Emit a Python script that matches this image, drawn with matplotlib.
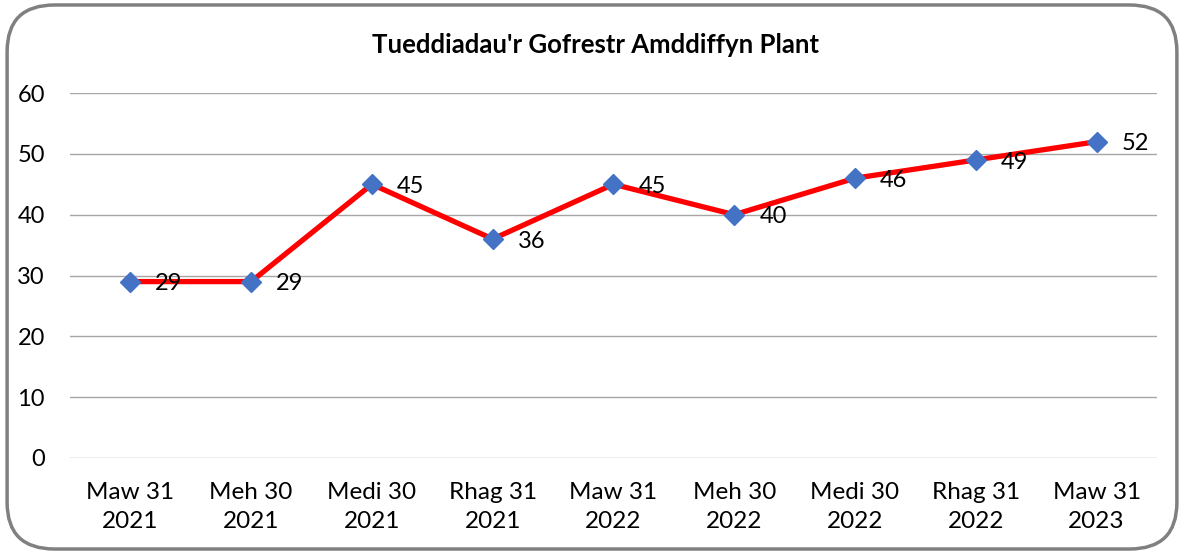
import matplotlib.pyplot as plt
from matplotlib.patches import FancyBboxPatch

plt.rcParams['font.family'] = ['Lato', 'DejaVu Sans']

# data
categories = ['Maw 31\n2021', 'Meh 30\n2021', 'Medi 30\n2021', 'Rhag 31\n2021',
              'Maw 31\n2022', 'Meh 30\n2022', 'Medi 30\n2022', 'Rhag 31\n2022',
              'Maw 31\n2023']
values = [29, 29, 45, 36, 45, 40, 46, 49, 52]
yticks = [0, 10, 20, 30, 40, 50, 60]

fig = plt.figure(figsize=(11.84, 5.54), dpi=100)
ax = fig.add_axes([0.0591, 0.1733, 0.9181, 0.6588])

# rounded frame around the whole chart
frame = FancyBboxPatch((0.006, 0.009), 0.988, 0.982,
                       boxstyle='round,pad=0,rounding_size=0.04',
                       transform=fig.transFigure, fill=False,
                       edgecolor='#808080', linewidth=2.5, mutation_aspect=2.1)
fig.patches.append(frame)

x = list(range(len(categories)))
ax.plot(x, values, color='#FF0000', linewidth=3.8, zorder=3)
ax.plot(x, values, linestyle='none', marker='D', markersize=10,
        color='#4472C4', zorder=4)

for xi, v in zip(x, values):
    ax.annotate(str(v), (xi, v), xytext=(18, -1.5), textcoords='offset points',
                ha='left', va='center', fontsize=17, color='black', zorder=5)

ax.set_xlim(-0.5, len(categories) - 0.5)
ax.set_ylim(0, 60)
ax.set_yticks(yticks)
ax.set_xticks(x)
ax.set_xticklabels(categories, fontsize=17.5, linespacing=1.5)
ax.tick_params(axis='y', labelsize=17, length=0, pad=18)
ax.tick_params(axis='x', length=0, pad=17)
ax.grid(axis='y', color='#A6A6A6', linewidth=1)
ax.set_axisbelow(True)
for s in ax.spines.values():
    s.set_visible(False)

fig.text(0.503, 0.918, "Tueddiadau'r Gofrestr Amddiffyn Plant", ha='center',
         va='center', fontsize=18.5, fontweight='bold')

plt.savefig('out.png', dpi=100)
